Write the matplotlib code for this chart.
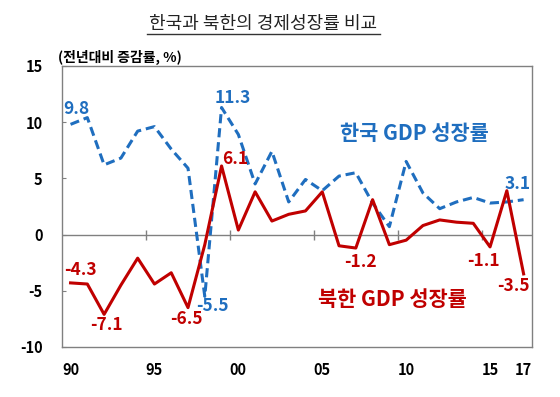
import matplotlib
matplotlib.use("Agg")
import matplotlib.pyplot as plt
from matplotlib.lines import Line2D

plt.rcParams['font.family'] = ['Noto Sans CJK KR', 'DejaVu Sans']

years = list(range(1990, 2018))
south = [9.8, 10.4, 6.2, 6.8, 9.2, 9.6, 7.6, 5.9, -5.5, 11.3, 8.9, 4.5, 7.4, 2.9,
         4.9, 3.9, 5.2, 5.5, 2.8, 0.7, 6.5, 3.7, 2.3, 2.9, 3.3, 2.8, 2.9, 3.1]
north = [-4.3, -4.4, -7.1, -4.5, -2.1, -4.4, -3.4, -6.5, -0.9, 6.1, 0.4, 3.8, 1.2, 1.8,
         2.1, 3.8, -1.0, -1.2, 3.1, -0.9, -0.5, 0.8, 1.3, 1.1, 1.0, -1.1, 3.9, -3.5]
xtick_years = [1990, 1995, 2000, 2005, 2010, 2015, 2017]
xtick_labels = ['90', '95', '00', '05', '10', '15', '17']
yticks = [-10, -5, 0, 5, 10, 15]

south_labels = {1990: '9.8', 1999: '11.3', 1998: '-5.5', 2017: '3.1'}
north_labels = {1990: '-4.3', 1992: '-7.1', 1997: '-6.5', 1999: '6.1',
                2007: '-1.2', 2015: '-1.1', 2017: '-3.5'}
label_offsets = {('s', 1990): (4, 11), ('s', 1999): (8, 7), ('s', 1998): (5.5, -7),
                 ('s', 2017): (-4, 11.5),
                 ('n', 1990): (7, 9), ('n', 1992): (2, -7.5), ('n', 1997): (-1, -8),
                 ('n', 1999): (10, 5), ('n', 2007): (3, -10), ('n', 2015): (-5, -10.5),
                 ('n', 2017): (-7, -9)}

BLUE = '#1F6EBF'
RED = '#C00000'
GRAY = '#808080'

fig = plt.figure(figsize=(5.6, 3.97), dpi=100)
ax = fig.add_axes([0.111, 0.126, 0.839, 0.708])

ax.plot(years, south, color=BLUE, lw=2.2, ls=(0, (3, 1.6)))
ax.plot(years, north, color=RED, lw=2.2)

ax.set_xlim(1989.5, 2017.5)
ax.set_ylim(-10, 15)
ax.set_yticks(yticks)
ax.set_yticklabels([str(v) for v in yticks], fontsize=10.5, fontweight='bold')
ax.set_xticks(xtick_years)
ax.set_xticklabels(xtick_labels, fontsize=10.5, fontweight='bold')
ax.tick_params(axis='x', length=0, pad=11)
ax.tick_params(axis='y', direction='in', length=3, color=GRAY, pad=14)
for s in ax.spines.values():
    s.set_color(GRAY)
    s.set_linewidth(1.0)

ax.axhline(0, color=GRAY, lw=1.0, zorder=1)
tick_pos = [1994.5, 1999.5, 2004.5, 2009.5, 2014.5]
ax.plot(tick_pos, [0] * len(tick_pos), ls='none', marker='|', ms=7, mew=1.0,
        color=GRAY, zorder=1)

for y, t in south_labels.items():
    v = south[years.index(y)]
    ax.annotate(t, (y, v), xytext=label_offsets[('s', y)], textcoords='offset points',
                ha='center', va='center', color=BLUE, fontsize=12.5, fontweight='bold')
for y, t in north_labels.items():
    v = north[years.index(y)]
    ax.annotate(t, (y, v), xytext=label_offsets[('n', y)], textcoords='offset points',
                ha='center', va='center', color=RED, fontsize=12.5, fontweight='bold')

ax.text(2010.5, 9.0, '한국 GDP 성장률', color=BLUE, fontsize=15, fontweight='bold',
        ha='center', va='center')
ax.text(2009.17, -5.8, '북한 GDP 성장률', color=RED, fontsize=15, fontweight='bold',
        ha='center', va='center')

fig.text(0.47, 0.94, '한국과 북한의 경제성장률 비교', fontsize=13, ha='center',
         va='center', color='#222222')
fig.add_artist(Line2D([0.2625, 0.679], [0.915, 0.915], color='#333333', lw=1.0,
                      transform=fig.transFigure))
fig.text(0.104, 0.856, '(전년대비 증감률, %)', fontsize=10, fontweight='bold',
         ha='left', va='center')

fig.savefig('out.png', dpi=100)
